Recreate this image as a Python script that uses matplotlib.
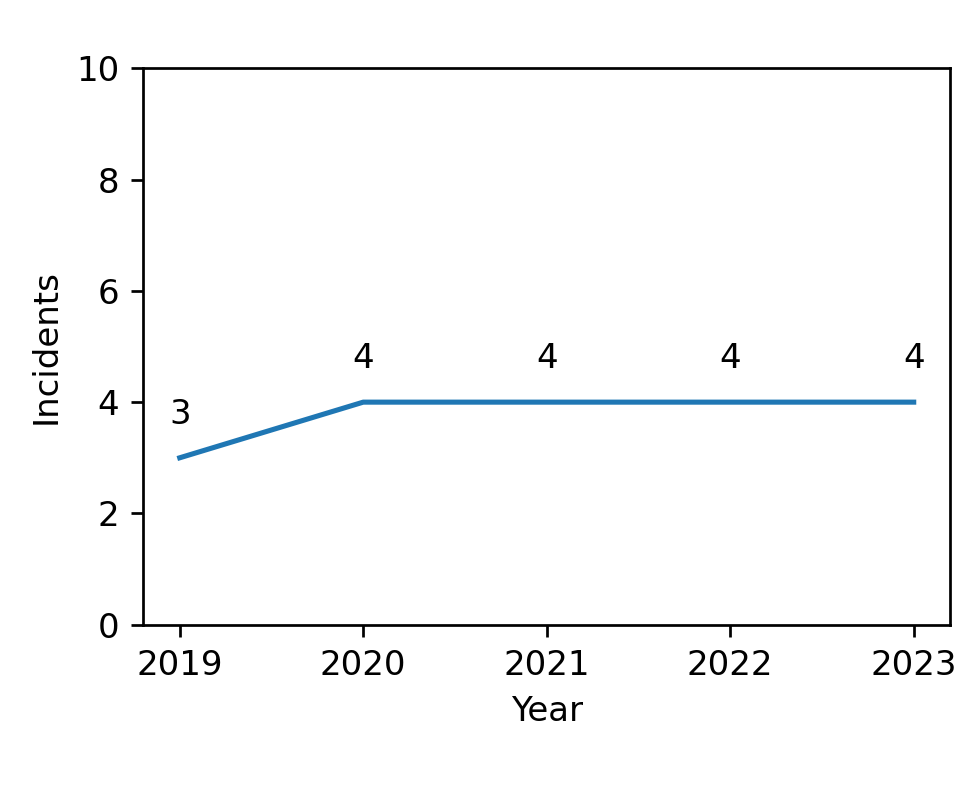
import matplotlib
matplotlib.use("Agg")
import matplotlib.pyplot as plt

#-------------------------------------------------------------------------------
# data
years = [2019, 2020, 2021, 2022, 2023]
incidents = [3, 4, 4, 4, 4]
#-------------------------------------------------------------------------------

fig = plt.figure(figsize=(960 / 245, 803 / 245), dpi=245)
ax = fig.add_axes([0.149, 0.222, 0.841, 0.693])

ax.plot(years, incidents, color='#1f77b4', linewidth=1.5)
for x, y in zip(years, incidents):
    ax.annotate(str(y), (x, y), xytext=(0, 10), textcoords='offset points',
                ha='center')

ax.set_ylim(0, 10)
ax.set_xticks(years)
ax.set_xlabel('Year')
ax.set_ylabel('Incidents')

fig.savefig('out.png', dpi=245)
